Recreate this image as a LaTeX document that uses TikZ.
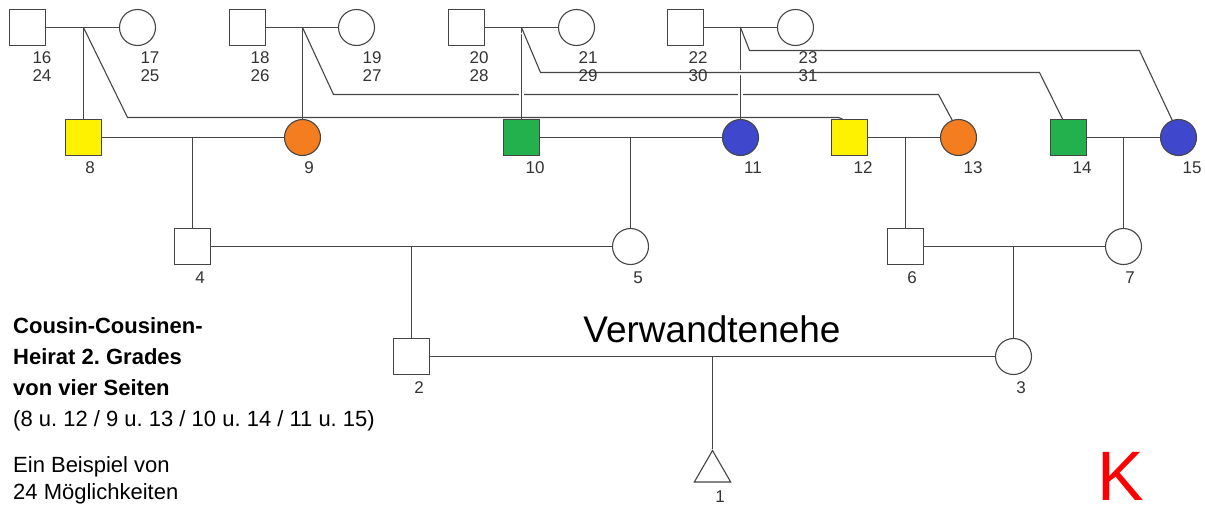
\documentclass[tikz,border=0pt]{standalone}
\usepackage{fontspec}
\setmainfont{Liberation Sans}
\usetikzlibrary{shapes.geometric}
\frenchspacing
\definecolor{lc}{HTML}{454545}
\definecolor{tc}{HTML}{333333}
\definecolor{cyel}{HTML}{FFF200}
\definecolor{cora}{HTML}{F47D20}
\definecolor{cgre}{HTML}{22B14C}
\definecolor{cblu}{HTML}{3F48CC}
\tikzset{
  person/.style={draw=lc, line width=1.1pt, inner sep=0pt, minimum size=36pt, fill=white},
  male/.style={person, rectangle},
  female/.style={person, circle},
  unknown/.style={person, regular polygon, regular polygon sides=3, minimum size=42pt},
  link/.style={draw=lc, line width=1.1pt},
  bridge/.style={link, preaction={draw=white, line width=5pt, shorten <=5pt, shorten >=5pt}},
  lab/.style={font=\fontsize{17}{18}\selectfont, text=tc, inner sep=0pt, align=center},
  txt/.style={font=\fontsize{22}{26}\selectfont\frenchspacing, text=black, inner sep=0pt, anchor=base west},
}
\begin{document}
\begin{tikzpicture}[x=1pt, y=-1pt]
\useasboundingbox (0,0) rectangle (1205,504);
% generation 4
\node[male]   (n16) at (27.5,27.5) {};
\node[female] (n17) at (137.5,27.5) {};
\node[male]   (n18) at (247.5,27.5) {};
\node[female] (n19) at (356.5,27.5) {};
\node[male]   (n20) at (466.5,27.5) {};
\node[female] (n21) at (576.5,27.5) {};
\node[male]   (n22) at (685.5,27.5) {};
\node[female] (n23) at (795.5,27.5) {};
\coordinate (d1) at (83.5,27.5);
\coordinate (d2) at (302.5,27.5);
\coordinate (d3) at (521.5,27.5);
\coordinate (d4) at (740.5,27.5);
% generation 3
\node[male,fill=cyel]   (n8)  at (83.5,137.5) {};
\node[female,fill=cora] (n9)  at (302.5,137.5) {};
\node[male,fill=cgre]   (n10) at (521.5,137.5) {};
\node[female,fill=cblu] (n11) at (740.5,137.5) {};
\node[male,fill=cyel]   (n12) at (849.5,137.5) {};
\node[female,fill=cora] (n13) at (958.5,137.5) {};
\node[male,fill=cgre]   (n14) at (1068.5,137.5) {};
\node[female,fill=cblu] (n15) at (1178.5,137.5) {};
\coordinate (d89) at (192.5,137.5);
\coordinate (d1011) at (630.5,137.5);
\coordinate (d1213) at (905.5,137.5);
\coordinate (d1415) at (1123.5,137.5);
% generation 2
\node[male]   (n4) at (192.5,246.5) {};
\node[female] (n5) at (630.5,246.5) {};
\node[male]   (n6) at (905.5,246.5) {};
\node[female] (n7) at (1123.5,246.5) {};
\coordinate (d45) at (411.5,246.5);
\coordinate (d67) at (1013.5,246.5);
% generation 1
\node[male]   (n2) at (411.5,356.5) {};
\node[female] (n3) at (1013.5,356.5) {};
\coordinate (d23) at (712.5,356.5);
% proband
\node[unknown] (n1) at (712.5,471.5) {};

% descent lines (order matters for the small crossing gaps)
\draw[link] (d2) -- (333.5,94.5) -- (938.5,94.5) -- (n13.110);
\draw[bridge] (d3) -- (n10.north);
\draw[bridge] (d4) -- (n11.north);
\draw[bridge] (d3) -- (540.5,72.5) -- (1039.5,72.5) -- ([xshift=-6pt]n14.north);
\draw[link] (d4) -- (749.5,50.5) -- (1139.5,50.5) -- (n15.110);
\draw[link] (d1) -- (127.5,117.5) -- (838.5,117.5) -- ([xshift=-7pt]n12.north);
\draw[link] (d1) -- (n8.north);
\draw[link] (d2) -- (n9.north);
\draw[link] (d89) -- (n4.north);
\draw[link] (d1011) -- (n5.north);
\draw[link] (d1213) -- (n6.north);
\draw[link] (d1415) -- (n7.north);
\draw[link] (d45) -- (n2.north);
\draw[link] (d67) -- (n3.north);
\draw[link] (d23) -- (n1.north);
% marriage lines
\draw[link] (n16) -- (n17);
\draw[link] (n18) -- (n19);
\draw[link] (n20) -- (n21);
\draw[link] (n22) -- (n23);
\draw[link] (n8) -- (n9);
\draw[link] (n10) -- (n11);
\draw[link] (n12) -- (n13);
\draw[link] (n14) -- (n15);
\draw[link] (n4) -- (n5);
\draw[link] (n6) -- (n7);
\draw[link] (n2) -- (n3);

% labels
\node[lab] (l16) at (42,67) {16\\24};
\node[lab] (l17) at (150,67) {17\\25};
\node[lab] (l18) at (260,67) {18\\26};
\node[lab] (l19) at (372,67) {19\\27};
\node[lab] (l20) at (479,67) {20\\28};
\node[lab] (l21) at (588,67) {21\\29};
\node[lab] (l22) at (698,67) {22\\30};
\node[lab] (l23) at (808,67) {23\\31};
\node[lab] (l8)  at (90,168) {8};
\node[lab] (l9)  at (309,168) {9};
\node[lab] (l10) at (535,168) {10};
\node[lab] (l11) at (753,168) {11};
\node[lab] (l12) at (863,168) {12};
\node[lab] (l13) at (973,168) {13};
\node[lab] (l14) at (1082,168) {14};
\node[lab] (l15) at (1192,168) {15};
\node[lab] (l4) at (200,278) {4};
\node[lab] (l5) at (638,278) {5};
\node[lab] (l6) at (912,278) {6};
\node[lab] (l7) at (1130,278) {7};
\node[lab] (l2) at (419,388) {2};
\node[lab] (l3) at (1021,388) {3};
\node[lab] (l1) at (720,496.5) {1};

\node[font=\fontsize{37}{40}\selectfont, inner sep=0pt, anchor=base] (title) at (712,342) {Verwandtenehe};
\node[txt, font=\fontsize{22}{26}\selectfont\bfseries] (t1) at (13,333) {Cousin-Cousinen-};
\node[txt, font=\fontsize{22}{26}\selectfont\bfseries] (t2) at (13,364) {Heirat 2. Grades};
\node[txt, font=\fontsize{22}{26}\selectfont\bfseries] (t3) at (13,395) {von vier Seiten};
\node[txt] (t4) at (13,426) {(8 u. 12 / 9 u. 13 / 10 u. 14 / 11 u. 15)};
\node[txt] (t5) at (13,472) {Ein Beispiel von};
\node[txt] (t6) at (13,499) {24 Möglichkeiten};
\node[font=\fontsize{70}{70}\selectfont, text=red, inner sep=0pt, anchor=base] (k) at (1121,500) {K};
\end{tikzpicture}
\end{document}
